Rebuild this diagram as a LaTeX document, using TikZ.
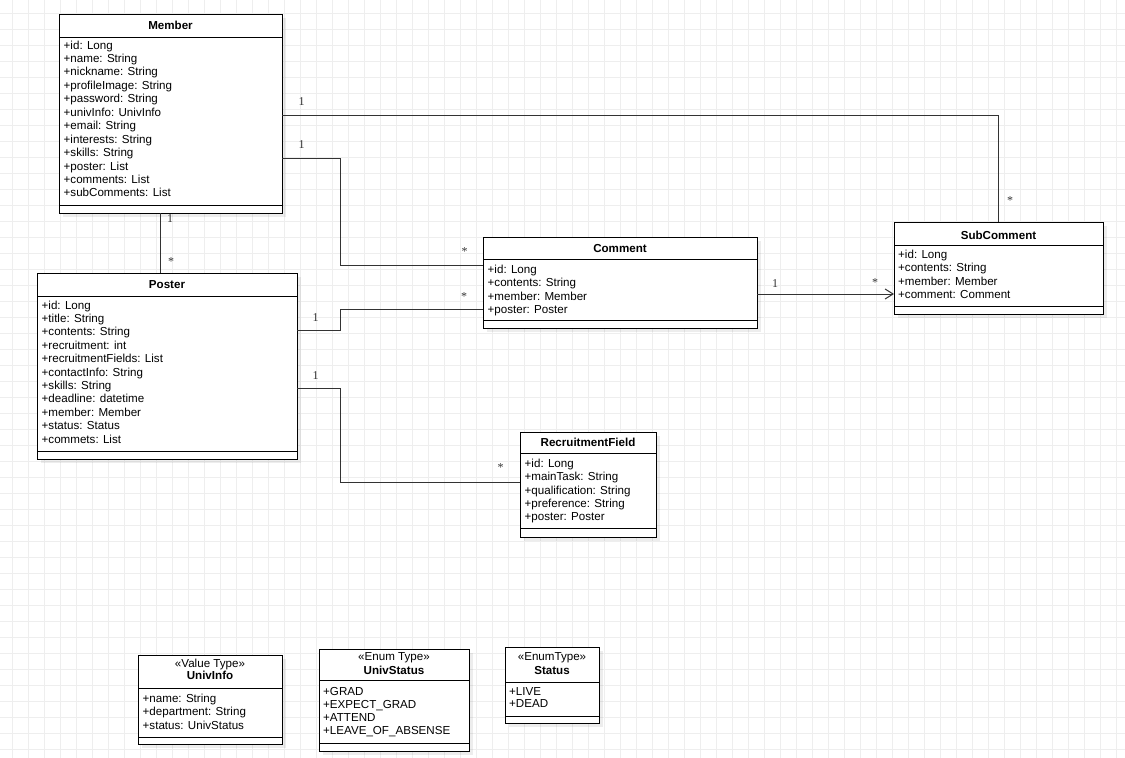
\documentclass[tikz,border=0pt]{standalone}
\usepackage{fontspec}
\setmainfont{Liberation Sans}
\newfontfamily\multfont{Liberation Serif}
\usetikzlibrary{arrows.meta, shadows}
\definecolor{gridgray}{RGB}{238,238,238}
\definecolor{linegray}{RGB}{51,51,51}

\begin{document}
\begin{tikzpicture}[x=1pt, y=-1pt,
  every node/.style={font=\fontsize{11.6pt}{13.4pt}\selectfont, inner sep=0pt},
  classbox/.style={draw=black, line width=1pt, fill=white, anchor=north west, outer sep=0pt,
    drop shadow={shadow xshift=4pt, shadow yshift=-4pt, fill=black, opacity=0.07}},
  ctitle/.style={anchor=base, font=\fontsize{11.6pt}{13.4pt}\selectfont\bfseries},
  stereo/.style={anchor=base},
  attr/.style={anchor=base west},
  sepline/.style={draw=black, line width=1pt},
  assoc/.style={draw=linegray, line width=1pt},
  mult/.style={font=\multfont\fontsize{12pt}{14pt}\selectfont, text=linegray},
  gridline/.style={draw=gridgray, line width=1pt}]

% ── Canvas and grid ─────────────────────────────────────────────
\fill[white] (0,0) rectangle (1125,758);
\useasboundingbox (0,0) rectangle (1125,758);
\foreach \gx in {12,28,...,1124} \draw[gridline] (\gx,0) -- (\gx,758);
\foreach \gy in {13,29,...,757} \draw[gridline] (0,\gy) -- (1125,\gy);

% ── Member ──────────────────────────────────────────────────────
\node[classbox, minimum width=223pt, minimum height=199pt] (member) at (59,14) {};
\draw[sepline] (member.west |- 0,37) -- (member.east |- 0,37);
\draw[sepline] (member.west |- 0,205) -- (member.east |- 0,205);
\node[ctitle] (member-t) at (member.north |- 0,29) {Member};
\foreach \a [count=\i] in {+id: Long, +name: String, +nickname: String,
  +profileImage: String, +password: String, +univInfo: UnivInfo, +email: String,
  +interests: String, +skills: String, +poster: List, +comments: List, +subComments: List}
  \node[attr] (member-\i) at (63.5,{49+13.45*(\i-1)}) {\a};

% ── Poster ──────────────────────────────────────────────────────
\node[classbox, minimum width=260pt, minimum height=186pt] (poster) at (37,273) {};
\draw[sepline] (poster.west |- 0,296) -- (poster.east |- 0,296);
\draw[sepline] (poster.west |- 0,451) -- (poster.east |- 0,451);
\node[ctitle] (poster-t) at (poster.north |- 0,288) {Poster};
\foreach \a [count=\i] in {+id: Long, +title: String, +contents: String,
  +recruitment: int, +recruitmentFields: List, +contactInfo: String, +skills: String,
  +deadline: datetime, +member: Member, +status: Status, +commets: List}
  \node[attr] (poster-\i) at (41.5,{309+13.4*(\i-1)}) {\a};

% ── Comment ─────────────────────────────────────────────────────
\node[classbox, minimum width=274pt, minimum height=91pt] (comment) at (483,237) {};
\draw[sepline] (comment.west |- 0,259) -- (comment.east |- 0,259);
\draw[sepline] (comment.west |- 0,320) -- (comment.east |- 0,320);
\node[ctitle] (comment-t) at (comment.north |- 0,252) {Comment};
\foreach \a [count=\i] in {+id: Long, +contents: String, +member: Member, +poster: Poster}
  \node[attr] (comment-\i) at (487.5,{273.3+13.35*(\i-1)}) {\a};

% ── SubComment ──────────────────────────────────────────────────
\node[classbox, minimum width=209pt, minimum height=92pt] (subcomment) at (894,222) {};
\draw[sepline] (subcomment.west |- 0,245) -- (subcomment.east |- 0,245);
\draw[sepline] (subcomment.west |- 0,306) -- (subcomment.east |- 0,306);
\node[ctitle] (subcomment-t) at (subcomment.north |- 0,239) {SubComment};
\foreach \a [count=\i] in {+id: Long, +contents: String, +member: Member, +comment: Comment}
  \node[attr] (subcomment-\i) at (898,{258.3+13.5*(\i-1)}) {\a};

% ── RecruitmentField ────────────────────────────────────────────
\node[classbox, minimum width=136pt, minimum height=105pt] (recruit) at (520,432) {};
\draw[sepline] (recruit.west |- 0,453) -- (recruit.east |- 0,453);
\draw[sepline] (recruit.west |- 0,528) -- (recruit.east |- 0,528);
\node[ctitle] (recruit-t) at (recruit.north |- 0,446) {RecruitmentField};
\foreach \a [count=\i] in {+id: Long, +mainTask: String, +qualification: String,
  +preference: String, +poster: Poster}
  \node[attr] (recruit-\i) at (524.5,{467.3+13.35*(\i-1)}) {\a};

% ── UnivInfo (value type) ───────────────────────────────────────
\node[classbox, minimum width=144pt, minimum height=89pt] (univinfo) at (138,655) {};
\draw[sepline] (univinfo.west |- 0,688) -- (univinfo.east |- 0,688);
\draw[sepline] (univinfo.west |- 0,737) -- (univinfo.east |- 0,737);
\node[stereo] (univinfo-s) at (univinfo.north |- 0,667) {«Value Type»};
\node[ctitle] (univinfo-t) at (univinfo.north |- 0,679) {UnivInfo};
\foreach \a [count=\i] in {+name: String, +department: String, +status: UnivStatus}
  \node[attr] (univinfo-\i) at (142.5,{702.3+13.35*(\i-1)}) {\a};

% ── UnivStatus (enum) ───────────────────────────────────────────
\node[classbox, minimum width=150pt, minimum height=102pt] (univstatus) at (319,649) {};
\draw[sepline] (univstatus.west |- 0,680) -- (univstatus.east |- 0,680);
\draw[sepline] (univstatus.west |- 0,743) -- (univstatus.east |- 0,743);
\node[stereo] (univstatus-s) at (univstatus.north |- 0,660) {«Enum Type»};
\node[ctitle] (univstatus-t) at (univstatus.north |- 0,674) {UnivStatus};
\foreach \a [count=\i] in {+GRAD, +EXPECT\_GRAD, +ATTEND, +LEAVE\_OF\_ABSENSE}
  \node[attr] (univstatus-\i) at (323,{695.7+13*(\i-1)}) {\a};

% ── Status (enum) ───────────────────────────────────────────────
\node[classbox, minimum width=94pt, minimum height=76pt] (status) at (505,647) {};
\draw[sepline] (status.west |- 0,682) -- (status.east |- 0,682);
\draw[sepline] (status.west |- 0,716) -- (status.east |- 0,716);
\node[stereo] (status-s) at (status.north |- 0,660) {«EnumType»};
\node[ctitle] (status-t) at (status.north |- 0,674) {Status};
\foreach \a [count=\i] in {+LIVE, +DEAD}
  \node[attr] (status-\i) at (509,{695+12*(\i-1)}) {\a};

% ── Associations ────────────────────────────────────────────────
\draw[assoc] (member.east |- 0,115) -| (subcomment.north);
\draw[assoc] (member.east |- 0,158) -- (340,158) -- (340,265) -- (comment.west |- 0,265);
\draw[assoc] (member.south -| 160.5,0) -- (poster.north -| 160.5,0);
\draw[assoc] (poster.east |- 0,330.5) -- (340,330.5) -- (340,309) -- (comment.west |- 0,309);
\draw[assoc] (poster.east |- 0,388) -- (340,388) -- (340,482) -- (recruit.west |- 0,482);
\draw[assoc, -{Straight Barb[length=8pt, width=10pt, line width=1pt]}]
  (comment.east |- 0,294) -- (subcomment.west |- 0,294);

% ── Multiplicities ──────────────────────────────────────────────
\node[mult] (m-ms-1) at (301.5,101.5) {1};
\node[mult] (m-ms-n) at (1010,200.5) {*};
\node[mult] (m-mc-1) at (301.5,144.5) {1};
\node[mult] (m-mc-n) at (464.5,251.5) {*};
\node[mult] (m-mp-1) at (170,218.5) {1};
\node[mult] (m-mp-n) at (171,261.5) {*};
\node[mult] (m-pc-1) at (315.5,317.5) {1};
\node[mult] (m-pc-n) at (464,296.5) {*};
\node[mult] (m-pr-1) at (315.5,376) {1};
\node[mult] (m-pr-n) at (500.5,468) {*};
\node[mult] (m-cs-1) at (775,284) {1};
\node[mult] (m-cs-n) at (875,282.5) {*};

\end{tikzpicture}
\end{document}
